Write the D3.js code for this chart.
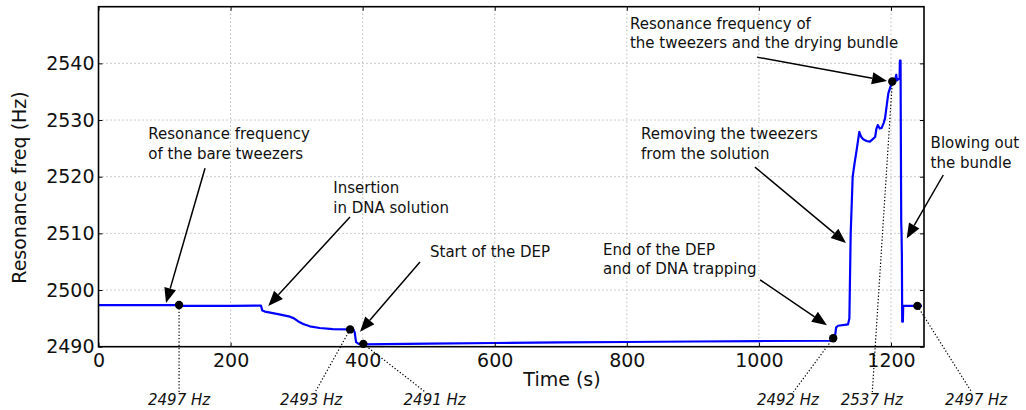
<!DOCTYPE html>
<html>
<head>
<meta charset="utf-8">
<script src="https://cdn.jsdelivr.net/npm/d3@7/dist/d3.min.js"></script>
<style>
  html, body { margin: 0; padding: 0; background: #fff; }
  svg { display: block; font-family: "DejaVu Sans", sans-serif; }
</style>
</head>
<body>
<svg id="chart" width="1026" height="410"></svg>
<script>
// Resonance frequency trace (time in s, frequency in Hz)
const time = [0, 60, 122, 126, 200, 246, 248, 252, 270, 290, 296, 302, 310, 320, 335, 355, 381, 386, 388, 390, 394, 401,
  500, 600, 700, 800, 900, 1000, 1112, 1115, 1117, 1120, 1135, 1137, 1139, 1142, 1145, 1148, 1152, 1155, 1158, 1163,
  1168, 1172, 1176, 1178, 1180, 1183, 1186, 1189, 1191, 1194, 1196, 1199, 1202, 1205, 1207, 1208, 1209, 1211, 1213,
  1213.5, 1214.5, 1215, 1215.5, 1216, 1216.5, 1217, 1218, 1218.5, 1230, 1247];
const freq = [2497.35, 2497.35, 2497.35, 2497.2, 2497.2, 2497.25, 2496.4, 2496.2, 2495.8, 2495.3, 2495.0, 2494.5, 2494.0,
  2493.6, 2493.3, 2493.1, 2493.05, 2493.0, 2492.5, 2490.8, 2490.5, 2490.42,
  2490.55, 2490.65, 2490.75, 2490.83, 2490.92, 2491.0, 2491.05, 2491.6, 2493.4, 2493.7, 2493.95, 2495, 2510, 2520, 2522.5,
  2524.7, 2527.9, 2527.0, 2526.6, 2526.3,
  2526.2, 2526.6, 2527.0, 2528.5, 2529.1, 2528.5, 2528.6, 2529.5, 2530.3, 2533.0, 2534.7, 2535.8, 2536.8, 2537.0, 2537.5,
  2538.0, 2537.0, 2537.2, 2537.3,
  2540.5, 2540.5, 2525, 2512, 2510, 2506, 2494.4, 2494.4, 2497.2, 2497.2, 2497.2];

// Marked readings
const markTime = [122, 381, 401, 1112.5, 1202, 1240];
const markFreq = [2497.35, 2493.05, 2490.5, 2491.5, 2536.8, 2497.2];
// Horizontal centre of each reading's label (s)
const markLabelTime = [122, 322, 509, 1044, 1171, 1329];

// Axis ticks
const xTicks = [0, 200, 400, 600, 800, 1000, 1200];
const yTicks = [2490, 2500, 2510, 2520, 2530, 2540];

// Callouts
const noteLines = [
  ["Resonance frequency", "of the bare tweezers"],
  ["Insertion", "in DNA solution"],
  ["Start of the DEP"],
  ["End of the DEP", "and of DNA trapping"],
  ["Removing the tweezers", "from the solution"],
  ["Resonance frequency of", "the tweezers and the drying bundle"],
  ["Blowing out", "the bundle"]
];
// text anchor (left, first baseline), arrow tail and arrow tip, all in data units [s, Hz]
const noteText = [[75.4, 2526.6], [355.5, 2517.1], [502, 2505.8], [764, 2506.2], [821.5, 2526.65], [804.8, 2546.1], [1260, 2525.0]];
const noteTail = [[161.3, 2521.5], [380.8, 2512.9], [486.8, 2504.95], [1001.7, 2501.8], [994, 2521.7], [997.1, 2541.1], [1279.2, 2520.3]];
const noteTip  = [[102.2, 2497.7], [257.1, 2497.2], [396, 2492.65], [1103.1, 2493.8], [1131.9, 2508.3], [1194, 2536.9], [1223.8, 2509.1]];

const svg = d3.select("#chart");
const W = 1026, H = 410;
const m = { left: 98.5, right: 924, top: 6.7, bottom: 346.7 };

const x = d3.scaleLinear().domain([0, 1250]).range([m.left, m.right]);
const y = d3.scaleLinear().domain([2490, 2550]).range([m.bottom, m.top]);

svg.append("rect").attr("width", W).attr("height", H).attr("fill", "#fff");

// grid
const grid = svg.append("g").attr("stroke", "#9a9a9a").attr("stroke-width", 1).attr("stroke-dasharray", "1,3");
grid.selectAll("line.v").data(xTicks.filter(d => d > 0)).join("line")
  .attr("x1", d => x(d)).attr("x2", d => x(d)).attr("y1", m.bottom).attr("y2", m.top);
grid.selectAll("line.h").data(yTicks.filter(d => d > 2490)).join("line")
  .attr("x1", m.left).attr("x2", m.right).attr("y1", d => y(d)).attr("y2", d => y(d));

// trace
const line = d3.line().x((d, i) => x(time[i])).y((d, i) => y(freq[i]));
svg.append("path").datum(freq).attr("d", line)
  .attr("fill", "none").attr("stroke", "#0000ff").attr("stroke-width", 2.2)
  .attr("stroke-linejoin", "round");

// axes
const fs = 19;
const xAxis = svg.append("g").attr("transform", `translate(0,${m.bottom})`)
  .call(d3.axisBottom(x).tickValues(xTicks).tickSize(-4).tickPadding(7).tickFormat(d3.format("d")));
const xAxisTop = svg.append("g").attr("transform", `translate(0,${m.top})`)
  .call(d3.axisTop(x).tickValues(xTicks).tickSize(-4).tickFormat(""));
const yAxis = svg.append("g").attr("transform", `translate(${m.left},0)`)
  .call(d3.axisLeft(y).tickValues(yTicks).tickSize(-4).tickPadding(4).tickFormat(d3.format("d")));
const yAxisRight = svg.append("g").attr("transform", `translate(${m.right},0)`)
  .call(d3.axisRight(y).tickValues(yTicks).tickSize(-4).tickFormat(""));
[xAxis, xAxisTop, yAxis, yAxisRight].forEach(g => {
  g.select(".domain").remove();
  g.selectAll(".tick line").attr("stroke", "#000").attr("stroke-width", 1);
  g.selectAll("text").attr("font-family", "DejaVu Sans").attr("font-size", fs).attr("fill", "#111");
});

// frame
svg.append("rect").attr("x", m.left).attr("y", m.top)
  .attr("width", m.right - m.left).attr("height", m.bottom - m.top)
  .attr("fill", "none").attr("stroke", "#000").attr("stroke-width", 1.6);

// axis titles
svg.append("text").attr("x", 562).attr("y", 386).attr("text-anchor", "middle")
  .attr("font-size", fs).attr("fill", "#111").text("Time (s)");
svg.append("text").attr("transform", "translate(26,187.5) rotate(-90)").attr("text-anchor", "middle")
  .attr("font-size", fs).attr("fill", "#111").text("Resonance freq (Hz)");

// reading leaders and labels
const labelBaseline = m.bottom + 58;
const labelFs = 15;
const marks = markTime.map((t, i) => ({ t, v: markFreq[i], lt: markLabelTime[i] }));
const lead = svg.append("g");
marks.forEach(d => {
  const px = x(d.t), py = y(d.v);
  const cx = x(d.lt), cy = labelBaseline - labelFs * 0.36;
  const endY = labelBaseline - labelFs * 0.85;
  const k = (endY - py) / (cy - py);
  lead.append("line").attr("x1", px).attr("y1", py)
    .attr("x2", px + (cx - px) * k).attr("y2", endY)
    .attr("stroke", "#000").attr("stroke-width", 1.2).attr("stroke-dasharray", "1.3,2");
  lead.append("text").attr("x", cx).attr("y", labelBaseline).attr("text-anchor", "middle")
    .attr("font-size", labelFs).attr("font-style", "italic").attr("fill", "#111")
    .text(`${Math.round(d.v)} Hz`);
});
svg.append("g").selectAll("circle").data(marks).join("circle")
  .attr("cx", d => x(d.t)).attr("cy", d => y(d.v)).attr("r", 4.2).attr("fill", "#000");

// callouts
const notes = svg.append("g");
noteLines.forEach((lines, i) => {
  const tx = x(noteText[i][0]), ty = y(noteText[i][1]);
  const t = notes.append("text").attr("x", tx).attr("y", ty).attr("font-size", 15).attr("fill", "#111");
  lines.forEach((s, j) => t.append("tspan").attr("x", tx).attr("y", ty + j * 19.5).text(s));

  const x0 = x(noteTail[i][0]), y0 = y(noteTail[i][1]);
  const x1 = x(noteTip[i][0]), y1 = y(noteTip[i][1]);
  const dx = x1 - x0, dy = y1 - y0, len = Math.hypot(dx, dy);
  const ux = dx / len, uy = dy / len;
  const hl = 15, hw = 6;
  const bx = x1 - ux * hl, by = y1 - uy * hl;
  notes.append("line").attr("x1", x0).attr("y1", y0).attr("x2", bx).attr("y2", by)
    .attr("stroke", "#000").attr("stroke-width", 1.5);
  notes.append("path")
    .attr("d", `M${x1},${y1}L${bx - uy * hw},${by + ux * hw}L${bx + uy * hw},${by - ux * hw}Z`)
    .attr("fill", "#000");
});
</script>
</body>
</html>
